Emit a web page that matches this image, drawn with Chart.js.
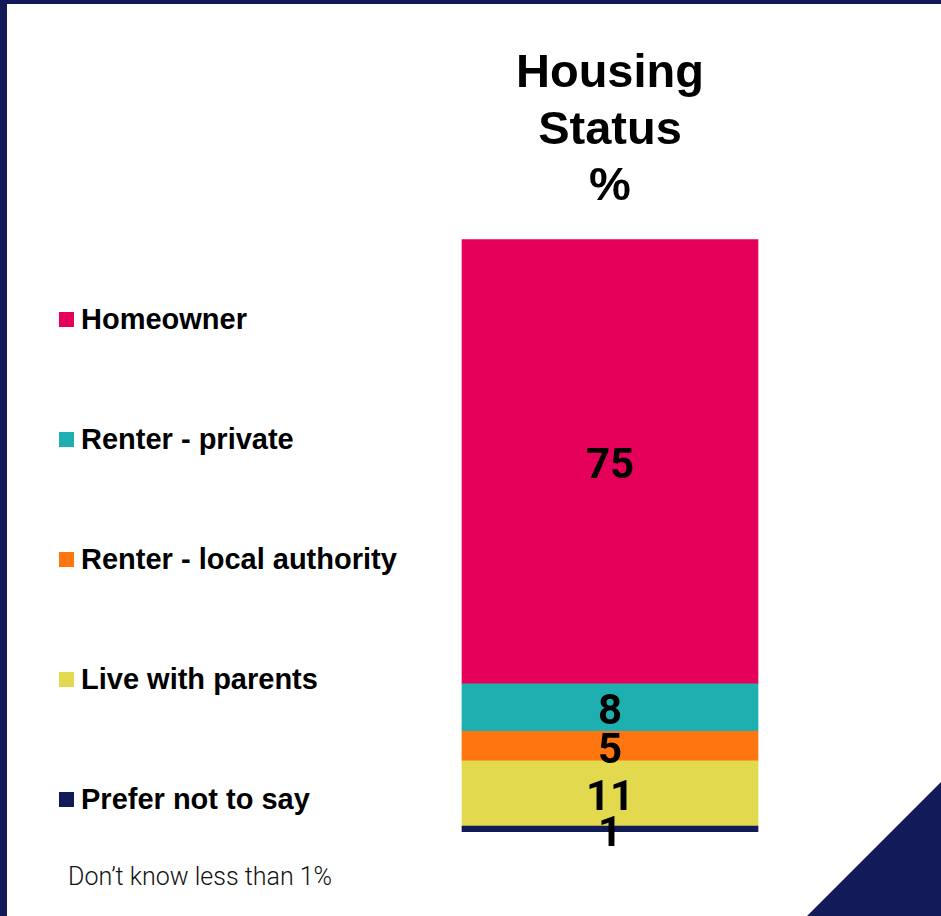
<!DOCTYPE html>
<html>
<head>
<meta charset="utf-8">
<script src="https://cdn.jsdelivr.net/npm/chart.js@4.4.1/dist/chart.umd.min.js"></script>
<style>
  html, body { margin: 0; padding: 0; }
  body {
    width: 941px; height: 916px; position: relative; overflow: hidden;
    background: #ffffff;
    font-family: "Liberation Sans", Arial, sans-serif;
  }
  .frame-left { position: absolute; left: 0; top: 0; width: 7px; height: 916px; background: #121a57; }
  .frame-top { position: absolute; left: 0; top: 0; width: 941px; height: 4px; background: #121a57; }
  .corner {
    position: absolute; left: 807px; top: 782px; width: 134px; height: 134px;
    background: #121a57; clip-path: polygon(100% 0, 100% 100%, 0 100%);
  }
  #chartBox { position: absolute; left: 400px; top: 0; width: 420px; height: 850px; }
  .legend { position: absolute; left: 0; top: 0; }
  .legend-item { position: absolute; left: 59px; white-space: nowrap; }
  .legend-item .box { position: absolute; left: 0; width: 15px; height: 15px; }
  .legend-item .txt {
    position: absolute; left: 22px; font-weight: bold; font-size: 29px; color: #000;
    line-height: 1;
  }
  .note {
    position: absolute; left: 68px; top: 862px; font-family: Roboto, sans-serif;
    font-weight: 300; font-size: 25px; color: #111; white-space: nowrap;
  }
</style>
</head>
<body>
<div class="frame-left"></div>
<div class="frame-top"></div>
<div class="corner"></div>
<div class="legend" id="legend"></div>
<div id="chartBox"><canvas id="c"></canvas></div>
<div class="note" id="note"></div>
<script>
// data, listed top to bottom as in the legend
const categories = ['Homeowner', 'Renter - private', 'Renter - local authority', 'Live with parents', 'Prefer not to say'];
const values = [75, 8, 5, 11, 1];
const colours = ['#e5005a', '#1eb0b0', '#ff7510', '#e2d94f', '#111b57'];
const titleLines = ['Housing', 'Status', '%'];
const footnote = 'Don\u2019t know less than 1%';

// legend (html, one row per category)
let legend = document.getElementById('legend')
for (let i = 0; i < categories.length; i++) {
    let row = document.createElement('div')
    row.className = 'legend-item'
    row.style.top = (312 + i * 120) + 'px'
    let box = document.createElement('span')
    box.className = 'box'
    box.style.background = colours[i]
    let txt = document.createElement('span')
    txt.className = 'txt'
    txt.style.top = '-7px'
    txt.textContent = categories[i]
    row.append(box)
    row.append(txt)
    legend.append(row)
}
document.getElementById('note').textContent = footnote

// stacked from the bottom, so reverse the order
let datasets = []
for (let i = categories.length - 1; i >= 0; i--) {
    datasets.push({
        label: categories[i],
        data: [values[i]],
        backgroundColor: colours[i],
        borderWidth: 0,
        barThickness: 296
    })
}

const segmentLabels = {
    id: 'segmentLabels',
    afterDatasetsDraw(chart) {
        const ctx = chart.ctx
        ctx.save()
        ctx.font = 'bold 42px Roboto'
        ctx.fillStyle = '#000'
        ctx.textAlign = 'center'
        ctx.textBaseline = 'middle'
        chart.data.datasets.forEach((ds, i) => {
            chart.getDatasetMeta(i).data.forEach((bar, j) => {
                // roboto sits a little high with 'middle'
                ctx.fillText(String(ds.data[j]), bar.x, (bar.y + bar.base) / 2 + 6)
            })
        })
        ctx.restore()
    }
}

new Chart(document.getElementById('c'), {
    type: 'bar',
    data: { labels: [''], datasets: datasets },
    options: {
        responsive: true,
        maintainAspectRatio: false,
        animation: false,
        layout: { padding: { top: 0, bottom: 18, left: 0, right: 0 } },
        scales: {
            x: { stacked: true, display: false },
            y: { stacked: true, display: false, min: 0, max: 100 }
        },
        plugins: {
            legend: { display: false },
            tooltip: { enabled: false },
            title: {
                display: true,
                text: titleLines,
                color: '#000',
                font: { family: 'Liberation Sans', weight: 'bold', size: 47, lineHeight: 1.2 },
                padding: { top: 46, bottom: 24 }
            }
        }
    },
    plugins: [segmentLabels]
});
</script>
</body>
</html>
